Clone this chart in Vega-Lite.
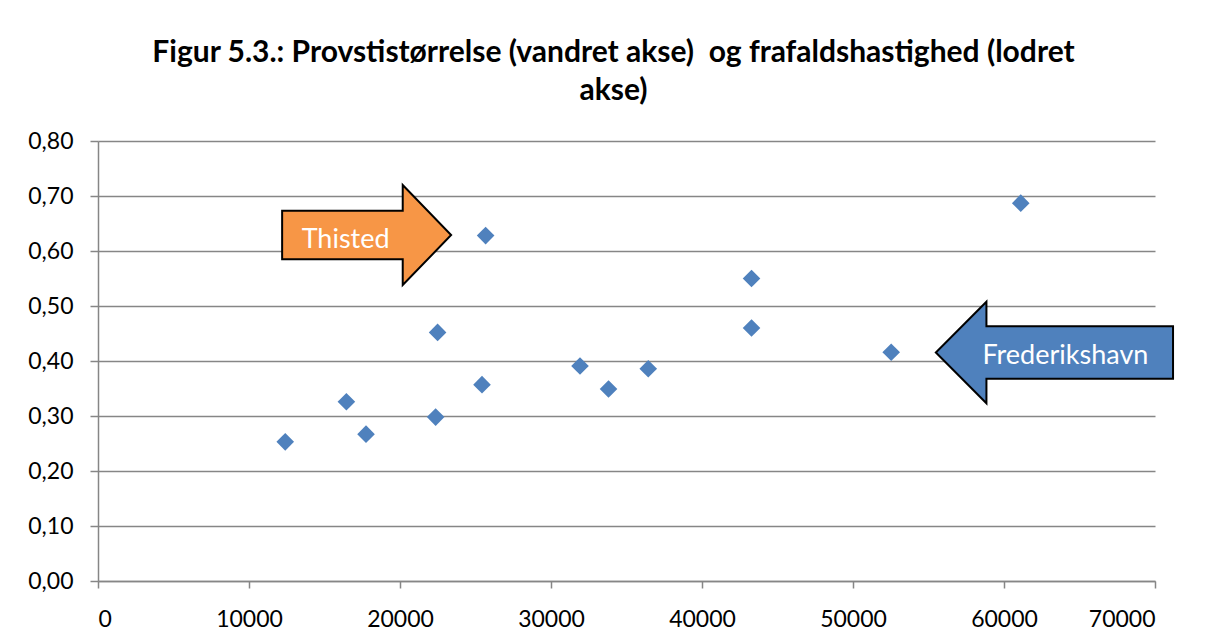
{
  "$schema": "https://vega.github.io/schema/vega-lite/v6.json",
  "width": 1057,
  "height": 440,
  "autosize": {"type": "none"},
  "padding": {"left": 98, "top": 141, "right": 53, "bottom": 60},
  "background": "white",
  "title": {
    "text": ["Figur 5.3.: Provstistørrelse (vandret akse)\u00a0 og frafaldshastighed (lodret", "akse)"],
    "font": "Lato",
    "fontSize": 30,
    "fontWeight": "bold",
    "color": "#000000",
    "anchor": "middle",
    "frame": "group",
    "dx": -13,
    "offset": 24,
    "lineHeight": 38
  },
  "config": {
    "view": {"stroke": null},
    "font": "Lato"
  },
  "datasets": {
    "points": [
      {"provst": 12400, "frafald": 0.253},
      {"provst": 16450, "frafald": 0.326},
      {"provst": 17750, "frafald": 0.267},
      {"provst": 22360, "frafald": 0.298},
      {"provst": 22490, "frafald": 0.452},
      {"provst": 25430, "frafald": 0.357},
      {"provst": 25670, "frafald": 0.628},
      {"provst": 31920, "frafald": 0.391},
      {"provst": 33810, "frafald": 0.349},
      {"provst": 36440, "frafald": 0.386},
      {"provst": 43280, "frafald": 0.550},
      {"provst": 43280, "frafald": 0.460},
      {"provst": 52530, "frafald": 0.416},
      {"provst": 61110, "frafald": 0.687}
    ],
    "notes": [
      {"label": "Thisted", "provst": 17790, "frafald": 0.629, "dir": "right"},
      {"label": "Frederikshavn", "provst": 63340, "frafald": 0.4155, "dir": "left"}
    ]
  },
  "layer": [
    {
      "data": {"name": "points"},
      "mark": {"type": "point", "shape": "diamond", "filled": true, "size": 310, "color": "#4F81BD", "opacity": 1},
      "encoding": {
        "x": {
          "field": "provst", "type": "quantitative",
          "scale": {"domain": [0, 70000], "nice": false, "zero": true},
          "axis": {
            "title": null,
            "values": [0, 10000, 20000, 30000, 40000, 50000, 60000, 70000],
            "format": "d",
            "grid": false,
            "domainColor": "#868686",
            "domainWidth": 1.5,
            "tickColor": "#868686",
            "tickWidth": 1.5,
            "tickSize": 7,
            "labelFont": "Lato",
            "labelFontSize": 23,
            "labelColor": "#000000",
            "labelPadding": 20
          }
        },
        "y": {
          "field": "frafald", "type": "quantitative",
          "scale": {"domain": [0, 0.8], "nice": false},
          "axis": {
            "title": null,
            "values": [0, 0.1, 0.2, 0.3, 0.4, 0.5, 0.6, 0.7, 0.8],
            "labelExpr": "replace(format(datum.value, '.2f'), '.', ',')",
            "grid": true,
            "gridColor": "#868686",
            "gridWidth": 1.5,
            "domainColor": "#868686",
            "domainWidth": 1.5,
            "tickColor": "#868686",
            "tickWidth": 1.5,
            "tickSize": 8,
            "labelFont": "Lato",
            "labelFontSize": 23,
            "labelColor": "#000000",
            "labelPadding": 17
          }
        }
      }
    },
    {
      "data": {"name": "notes"},
      "mark": {"type": "point", "filled": true, "size": 4, "stroke": "#000000", "strokeWidth": 2, "opacity": 1, "fillOpacity": 1, "strokeOpacity": 1},
      "encoding": {
        "x": {"field": "provst", "type": "quantitative"},
        "y": {"field": "frafald", "type": "quantitative"},
        "shape": {
          "field": "dir", "type": "nominal", "legend": null,
          "scale": {
            "domain": ["right", "left"],
            "range": [
              "M-84.5,-24.3L36.1,-24.3L36.1,-50L84.5,0L36.1,50L36.1,24.3L-84.5,24.3Z",
              "M118.6,-26.2L-68,-26.2L-68,-50.8L-118.6,0L-68,50.8L-68,26.2L118.6,26.2Z"
            ]
          }
        },
        "fill": {
          "field": "dir", "type": "nominal", "legend": null,
          "scale": {"domain": ["right", "left"], "range": ["#F79646", "#4F81BD"]}
        }
      }
    },
    {
      "data": {"name": "notes"},
      "transform": [{"filter": "datum.dir === 'right'"}],
      "mark": {"type": "text", "color": "#FFFFFF", "font": "Lato", "fontSize": 27, "dx": -21, "dy": 5, "align": "center", "baseline": "middle"},
      "encoding": {
        "x": {"field": "provst", "type": "quantitative"},
        "y": {"field": "frafald", "type": "quantitative"},
        "text": {"field": "label"}
      }
    },
    {
      "data": {"name": "notes"},
      "transform": [{"filter": "datum.dir === 'left'"}],
      "mark": {"type": "text", "color": "#FFFFFF", "font": "Lato", "fontSize": 27, "dx": 11, "dy": 4, "align": "center", "baseline": "middle"},
      "encoding": {
        "x": {"field": "provst", "type": "quantitative"},
        "y": {"field": "frafald", "type": "quantitative"},
        "text": {"field": "label"}
      }
    }
  ]
}
